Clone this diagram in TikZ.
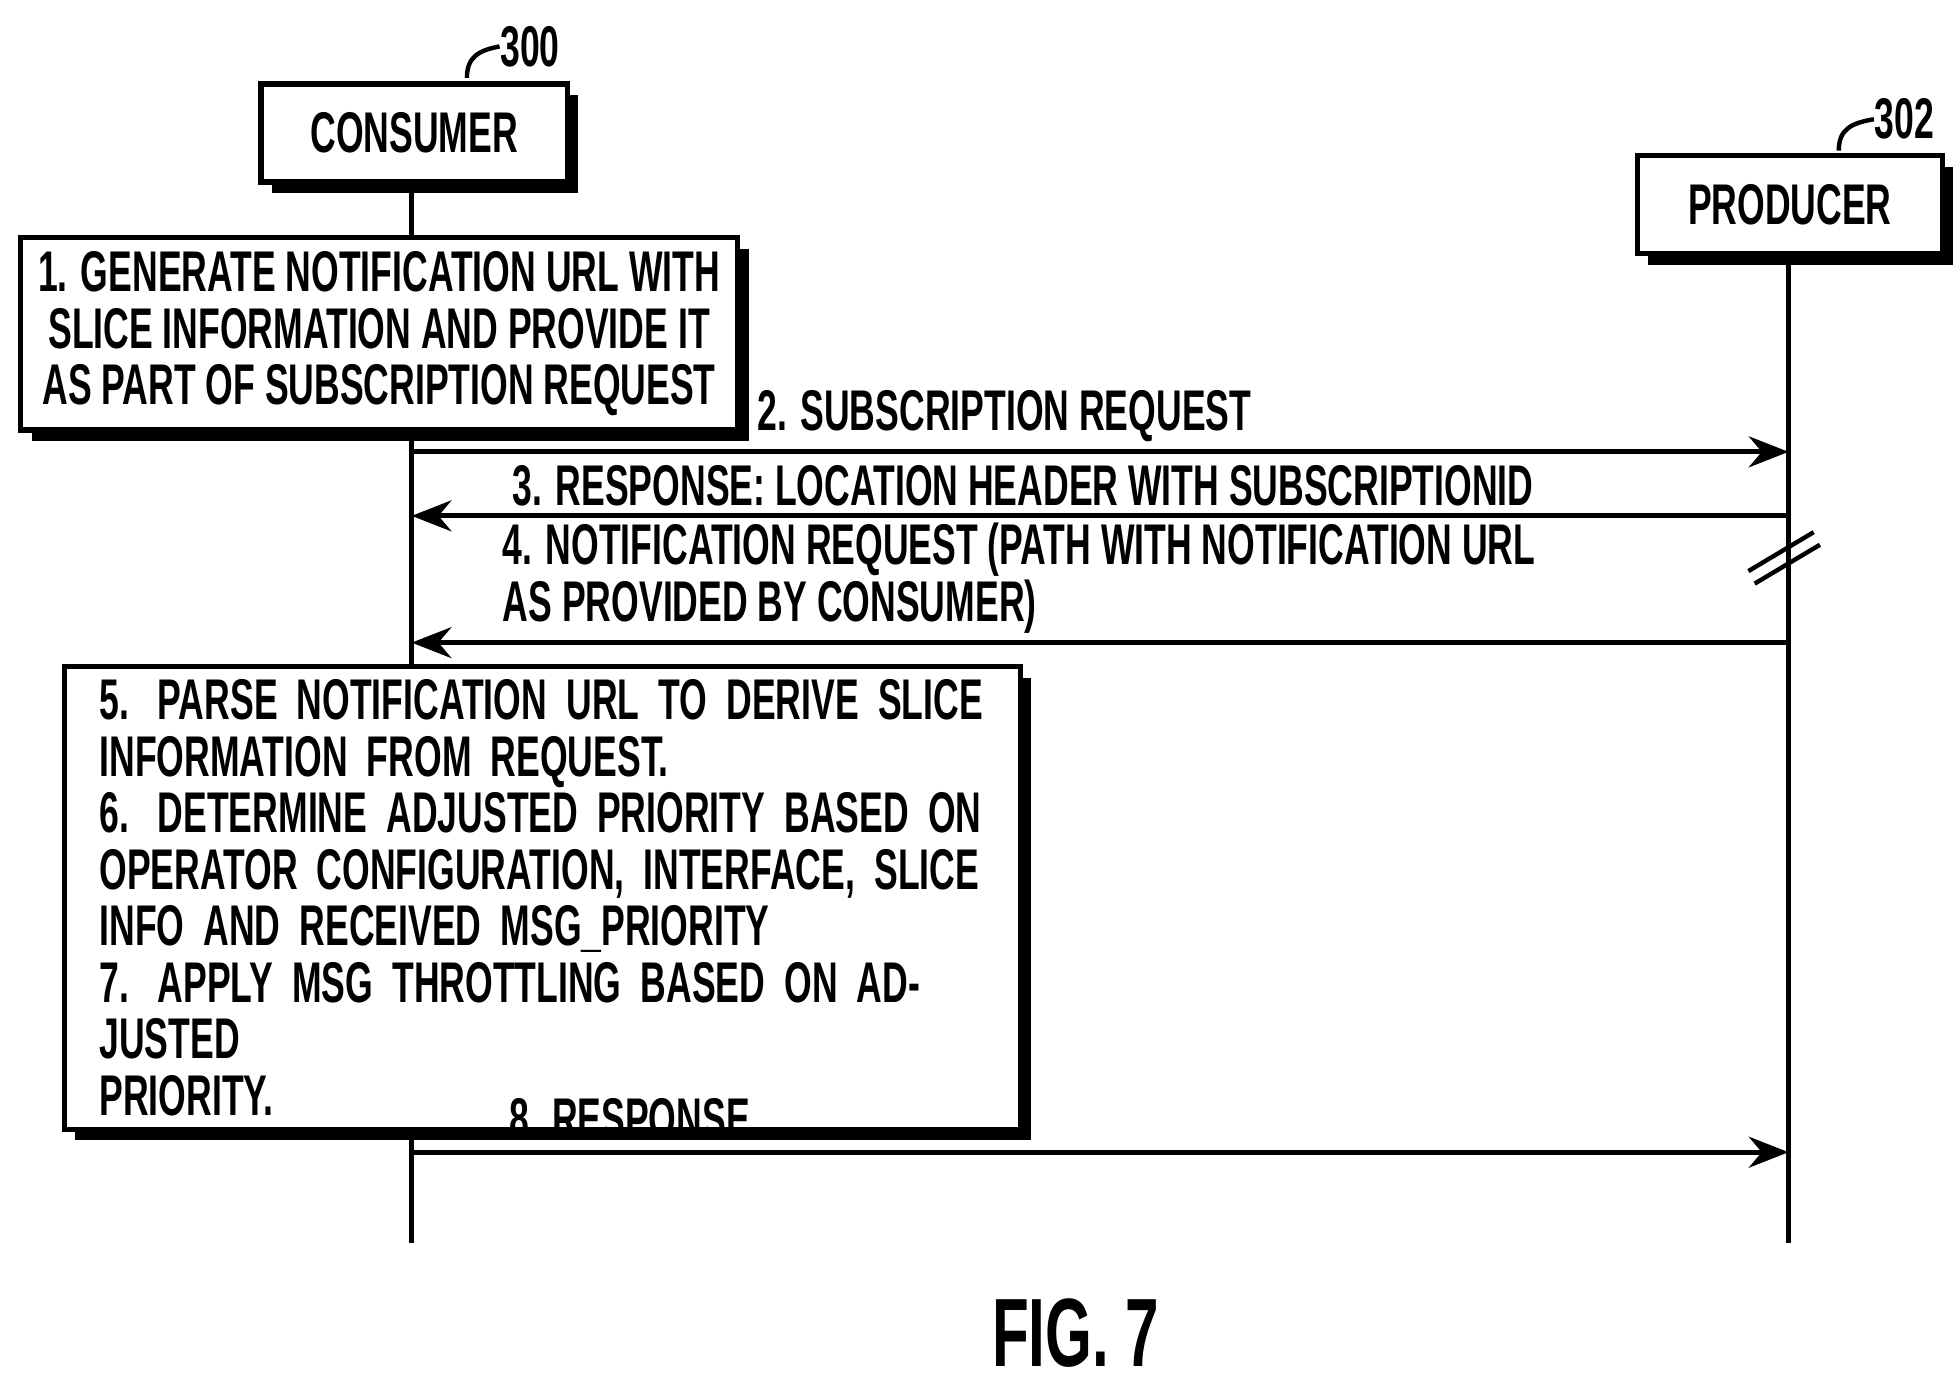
\documentclass[tikz,border=0pt]{standalone}
\usepackage{fontspec}
\setmainfont{Liberation Sans}[FakeStretch=0.62]
\usetikzlibrary{shadows,arrows.meta}
\tikzset{
  box/.style={draw,line width=1.2pt,fill=white,inner sep=3pt,
    drop shadow={shadow xshift=2.5pt,shadow yshift=-2.5pt,fill=black,opacity=1}},
  life/.style={line width=1.1pt},
  msg/.style={line width=1.1pt,-{Stealth[length=9pt,width=7pt]}},
  lbl/.style={font=\fontsize{13}{12.8}\selectfont\bfseries,inner sep=0pt}
}
\begin{document}
\begin{tikzpicture}[x=0.01cm,y=-0.01cm,lbl]
\useasboundingbox (0,0) rectangle (1560,1100);
% participants
\node[box,minimum width=2.44cm,minimum height=0.78cm] (cons) at (330,106) {CONSUMER};
\node[box,minimum width=2.43cm,minimum height=0.78cm] (prod) at (1426,163) {PRODUCER};
\node[anchor=west] (n300) at (398,37) {300};
\node[anchor=west] (n302) at (1493,95) {302};
\draw[line width=1pt] (372,62) .. controls (372,45) and (382,40) .. (n300.west);
\draw[line width=1pt] (1465,120) .. controls (1465,103) and (1475,98) .. (n302.west);
% lifelines
\coordinate (ce) at (328,990);
\coordinate (pe) at (1425,990);
\draw[life] (cons.south -| ce) -- (ce);
\draw[life] (prod.south -| pe) -- (pe);
% steps
\node[box,align=center,minimum height=1.53cm,minimum width=5.71cm] (s1) at (302,266)
  {1. GENERATE NOTIFICATION URL WITH\\SLICE INFORMATION AND PROVIDE IT\\AS PART OF SUBSCRIPTION REQUEST};
\coordinate (c2) at (328,360); \coordinate (p2) at (1425,360);
\draw[msg] (c2) -- (p2);
\node[anchor=south west] (m2) at (603,353) {2. SUBSCRIPTION REQUEST};
\coordinate (c3) at (328,411); \coordinate (p3) at (1425,411);
\draw[msg] (p3) -- (c3);
\node[anchor=south west] (m3) at (408,404) {3. RESPONSE: LOCATION HEADER WITH SUBSCRIPTIONID};
\coordinate (c4) at (328,512); \coordinate (p4) at (1425,512);
\draw[msg] (p4) -- (c4);
\node[anchor=south west,align=left] (m4) at (400,505) {4. NOTIFICATION REQUEST (PATH WITH NOTIFICATION URL\\AS PROVIDED BY CONSUMER)};
\draw[line width=1pt] (1393,455) -- (1445,424) (1398,465) -- (1450,434);
\node[box,align=left,inner xsep=8pt,text width=7.05cm,minimum height=3.28cm,anchor=north west] (s5) at (49,529)
  {5. PARSE NOTIFICATION URL TO DERIVE SLICE\\INFORMATION FROM REQUEST.\\6. DETERMINE ADJUSTED PRIORITY BASED ON\\OPERATOR CONFIGURATION, INTERFACE, SLICE\\INFO AND RECEIVED MSG\_PRIORITY\\7. APPLY MSG THROTTLING BASED ON ADJUSTED\\PRIORITY.};
\coordinate (c8) at (328,918); \coordinate (p8) at (1425,918);
\draw[msg] (c8) -- (p8);
\node[anchor=south west] (m8) at (405,908) {8. RESPONSE};
\node[font=\fontsize{22}{24}\selectfont\bfseries] (fig) at (857,1062) {FIG. 7};
\end{tikzpicture}
\end{document}
